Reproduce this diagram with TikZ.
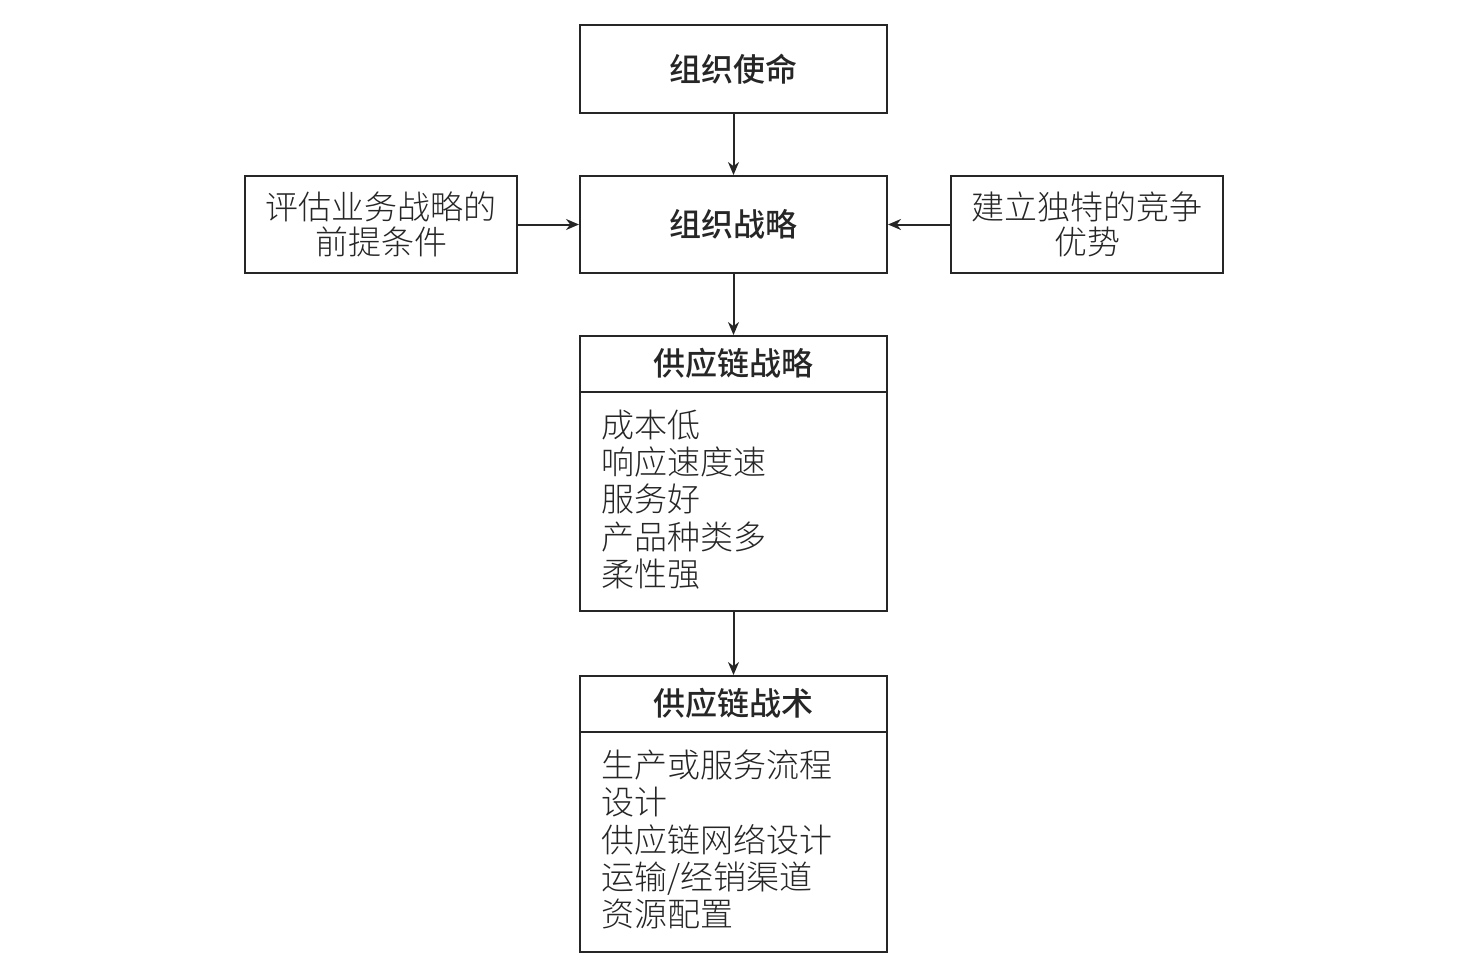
\documentclass[tikz,border=0pt]{standalone}
\usepackage{fontspec}
\usetikzlibrary{arrows.meta}
\newfontfamily\cjkl{Noto Sans CJK SC Light}
\newfontfamily\cjkm{Noto Sans CJK SC Medium}
\begin{document}
\begin{tikzpicture}[x=1pt,y=-1pt,
  box/.style={draw=black!85,line width=2pt},
  hd/.style={font=\cjkm\fontsize{32}{36}\selectfont,text=black!85},
  bd/.style={font=\cjkl\fontsize{33}{35}\selectfont,text=black!85,align=center},
  lst/.style={font=\cjkl\fontsize{33}{37.3}\selectfont,text=black!85,align=left,anchor=west,inner sep=0pt},
  arr/.style={draw=black!85,line width=2pt,-{Stealth[length=13pt,width=11pt]}}]
\useasboundingbox (0,0) rectangle (1463,975);
% boxes
\node[box,minimum width=307pt,minimum height=88pt,inner sep=0pt] (mission) at (733.5,69) {};
\node[hd] at (mission) {组织使命};
\node[box,minimum width=307pt,minimum height=97pt,inner sep=0pt] (strat) at (733.5,224.5) {};
\node[hd] at (strat) {组织战略};
\node[box,minimum width=272pt,minimum height=97pt,inner sep=0pt] (left) at (381,224.5) {};
\node[bd] at (left) {评估业务战略的\\前提条件};
\node[box,minimum width=272pt,minimum height=97pt,inner sep=0pt] (right) at (1087,224.5) {};
\node[bd] at (right) {建立独特的竞争\\优势};
% supply chain strategy
\node[box,minimum width=307pt,minimum height=275pt,inner sep=0pt] (scs) at (733.5,473.5) {};
\coordinate (scsL) at (580,392);
\coordinate (scsR) at (887,392);
\draw[box] (scsL) -- (scsR);
\node[hd] (scsh) at (733.5,363) {供应链战略};
\node[lst] (scsl) at (601,499.5) {成本低\\响应速度速\\服务好\\产品种类多\\柔性强};
% supply chain tactics
\node[box,minimum width=307pt,minimum height=276pt,inner sep=0pt] (sct) at (733.5,814) {};
\coordinate (sctL) at (580,732);
\coordinate (sctR) at (887,732);
\draw[box] (sctL) -- (sctR);
\node[hd] (scth) at (733.5,703) {供应链战术};
\node[lst] (sctl) at (601,839.5) {生产或服务流程\\设计\\供应链网络设计\\运输/经销渠道\\资源配置};
% arrows
\draw[arr] (mission.south) -- (strat.north);
\draw[arr] (left.east) -- (strat.west);
\draw[arr] (right.west) -- (strat.east);
\draw[arr] (strat.south) -- (scs.north);
\draw[arr] (scs.south) -- (sct.north);
\end{tikzpicture}
\end{document}
